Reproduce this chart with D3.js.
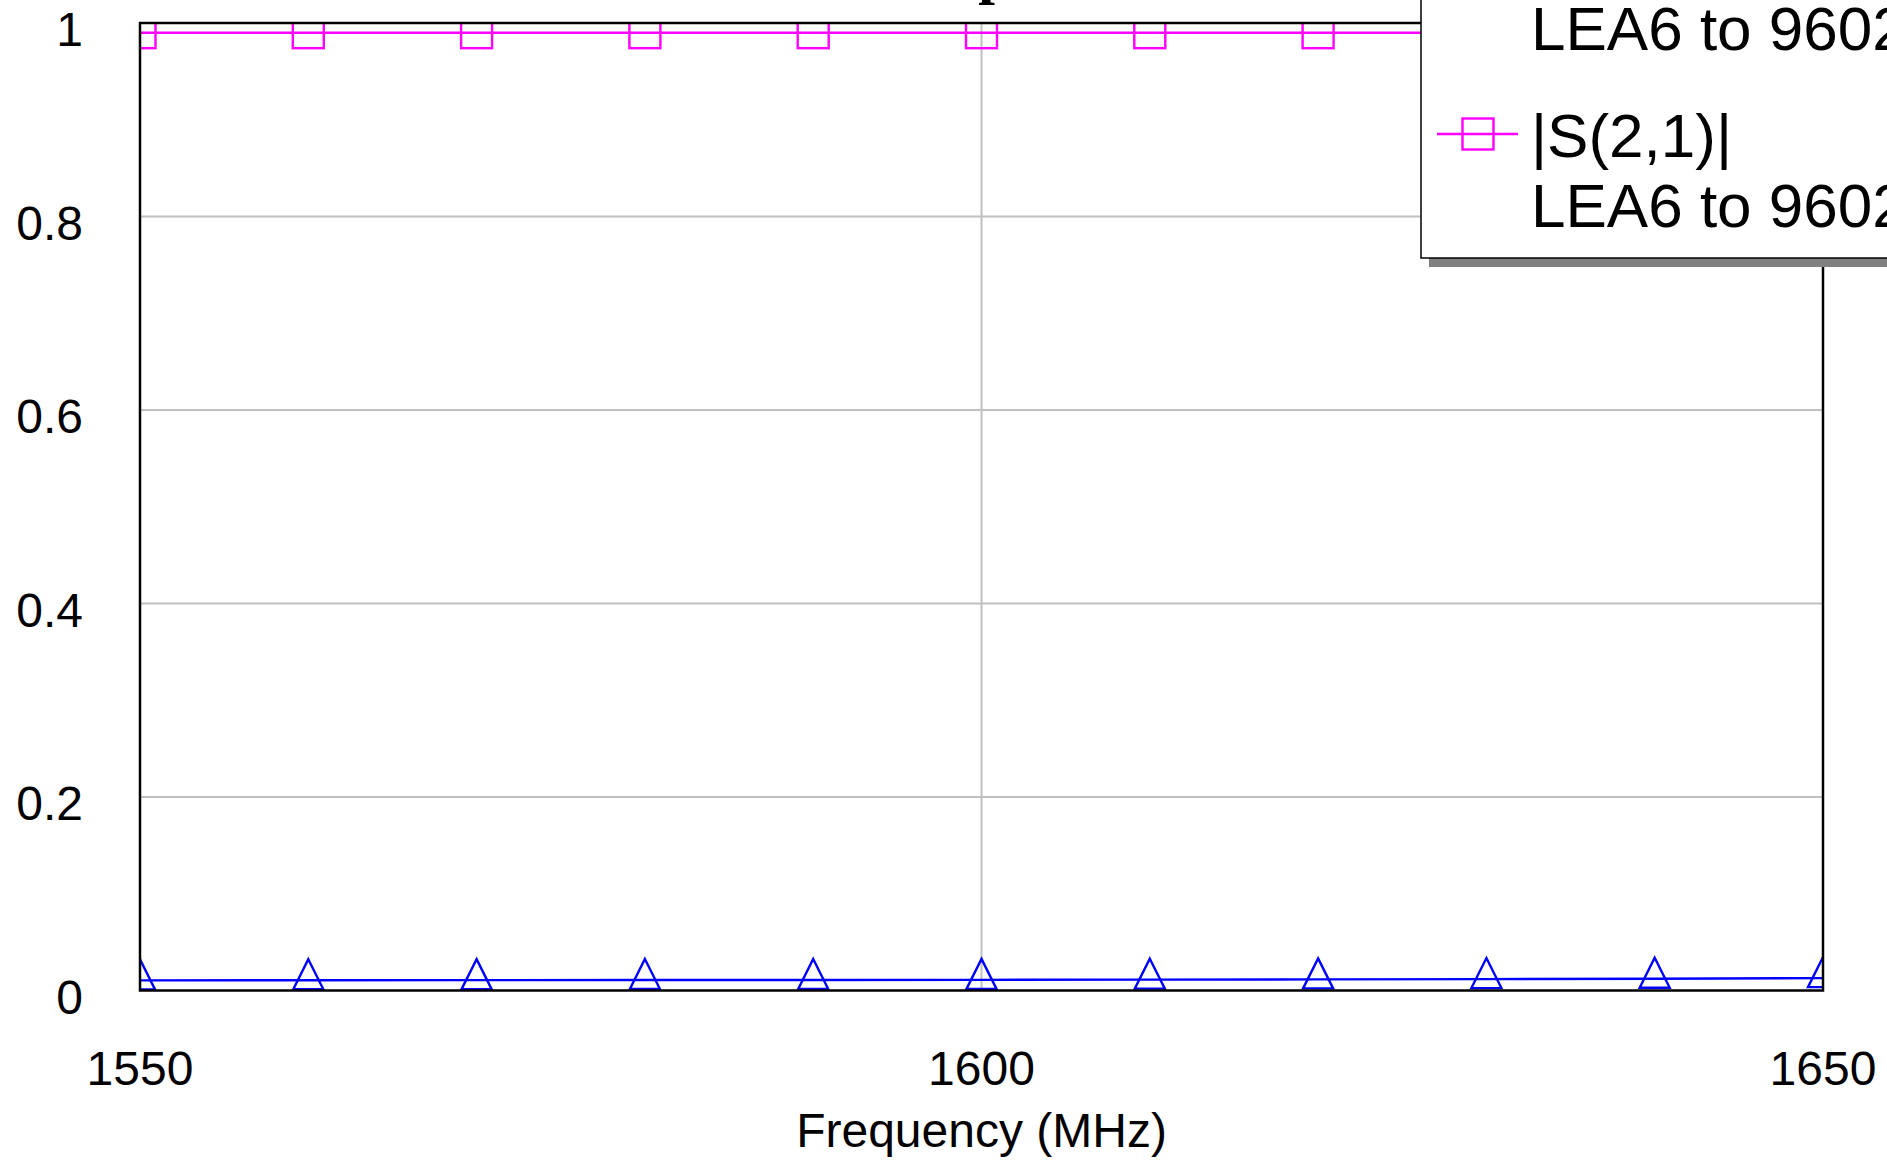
<!DOCTYPE html>
<html>
<head>
<meta charset="utf-8">
<script src="https://cdn.jsdelivr.net/npm/d3@7"></script>
<style>
  html, body { margin: 0; padding: 0; background: #fff; overflow: hidden; }
  svg { display: block; }
</style>
</head>
<body>
<svg id="chart" width="1887" height="1168"></svg>
<script>
// ---- data ----
const frequencies = [1550, 1560, 1570, 1580, 1590, 1600, 1610, 1620, 1630, 1640, 1650];
const s11Values = [0.0105, 0.0106, 0.0107, 0.0108, 0.0109, 0.0110, 0.0112, 0.0115, 0.0118, 0.0122, 0.0128];
const s21Values = [0.990, 0.990, 0.990, 0.990, 0.990, 0.990, 0.990, 0.990, 0.990, 0.990, 0.990];
const xTicks = [1550, 1600, 1650];
const yTicks = [0, 0.2, 0.4, 0.6, 0.8, 1];
const seriesNames = ["|S(1,1)|", "|S(2,1)|"];
const seriesSub = ["LEA6 to 9602", "LEA6 to 9602"];
const chartTitle = "S-parameters";
const xLabel = "Frequency (MHz)";

const W = 1887, H = 1168;
const plot = { left: 140, right: 1823, top: 23, bottom: 990.5 };

const svg = d3.select("#chart");
const x = d3.scaleLinear().domain([1550, 1650]).range([plot.left, plot.right]);
const y = d3.scaleLinear().domain([0, 1]).range([plot.bottom, plot.top]);

const sansFont = "'Liberation Sans', Arial, Helvetica, sans-serif";

// title (almost entirely above the visible area; only the descender of "p" shows)
svg.append("text")
  .attr("x", 925)
  .attr("y", -8)
  .attr("text-anchor", "start")
  .attr("font-family", "'Liberation Serif', 'Times New Roman', serif")
  .attr("font-weight", "bold")
  .attr("font-size", 60)
  .text(chartTitle);

// grid
const grid = svg.append("g");
grid.selectAll("line.gy").data(yTicks.filter(d => d > 0 && d < 1)).join("line")
  .attr("x1", plot.left).attr("x2", plot.right)
  .attr("y1", d => y(d)).attr("y2", d => y(d))
  .attr("stroke", "#c0c0c0").attr("stroke-width", 2);
grid.selectAll("line.gx").data(xTicks.filter(d => d > 1550 && d < 1650)).join("line")
  .attr("x1", d => x(d)).attr("x2", d => x(d))
  .attr("y1", plot.top).attr("y2", plot.bottom)
  .attr("stroke", "#c0c0c0").attr("stroke-width", 2);

// clip
svg.append("clipPath").attr("id", "plotclip")
  .append("rect")
  .attr("x", plot.left).attr("y", plot.top)
  .attr("width", plot.right - plot.left).attr("height", plot.bottom - plot.top);

const dataG = svg.append("g").attr("clip-path", "url(#plotclip)");

const s11 = frequencies.map((f, i) => ({ f, v: s11Values[i] }));
const s21 = frequencies.map((f, i) => ({ f, v: s21Values[i] }));
const line = d3.line().x(d => x(d.f)).y(d => y(d.v));

function triPath(cx, cy) {
  return `M${cx},${cy - 21}L${cx + 15},${cy + 9}L${cx - 15},${cy + 9}Z`;
}

dataG.append("path").datum(s11).attr("d", line)
  .attr("fill", "none").attr("stroke", "#0000ff").attr("stroke-width", 2.4);
dataG.selectAll("path.tri").data(s11).join("path")
  .attr("class", "tri")
  .attr("d", d => triPath(x(d.f), y(d.v)))
  .attr("fill", "none").attr("stroke", "#0000ff").attr("stroke-width", 2.4);

dataG.append("path").datum(s21).attr("d", line)
  .attr("fill", "none").attr("stroke", "#ff00ff").attr("stroke-width", 2.4);
dataG.selectAll("rect.sq").data(s21).join("rect")
  .attr("class", "sq")
  .attr("x", d => x(d.f) - 15.5).attr("y", d => y(d.v) - 15.5)
  .attr("width", 31).attr("height", 31)
  .attr("fill", "none").attr("stroke", "#ff00ff").attr("stroke-width", 2.4);

// frame
svg.append("rect")
  .attr("x", plot.left).attr("y", plot.top)
  .attr("width", plot.right - plot.left).attr("height", plot.bottom - plot.top)
  .attr("fill", "none").attr("stroke", "#000").attr("stroke-width", 2.5);

// y tick labels
svg.append("g").selectAll("text").data(yTicks).join("text")
  .attr("x", 83).attr("y", d => y(d) + 23)
  .attr("text-anchor", "end")
  .attr("font-family", sansFont).attr("font-size", 48)
  .text(d => d3.format("~g")(d));

// x tick labels
svg.append("g").selectAll("text").data(xTicks).join("text")
  .attr("x", d => x(d)).attr("y", 1085)
  .attr("text-anchor", "middle")
  .attr("font-family", sansFont).attr("font-size", 48)
  .text(d => d);

// x axis label
svg.append("text")
  .attr("x", (plot.left + plot.right) / 2).attr("y", 1147)
  .attr("text-anchor", "middle")
  .attr("font-family", sansFont).attr("font-size", 48)
  .text(xLabel);

// legend
const leg = { left: 1421, bottom: 258, top: -200, right: 2100 };
const legG = svg.append("g");
legG.append("rect")
  .attr("x", leg.left + 8).attr("y", leg.top + 9)
  .attr("width", leg.right - leg.left).attr("height", leg.bottom - leg.top)
  .attr("fill", "#808080");
legG.append("rect")
  .attr("x", leg.left).attr("y", leg.top)
  .attr("width", leg.right - leg.left).attr("height", leg.bottom - leg.top)
  .attr("fill", "#fff").attr("stroke", "#000").attr("stroke-width", 1.5);

const legendItems = [
  { name: seriesNames[0], sub: seriesSub[0], color: "#0000ff", marker: "tri", lineY: -43 },
  { name: seriesNames[1], sub: seriesSub[1], color: "#ff00ff", marker: "sq", lineY: 134 }
];
legendItems.forEach(it => {
  const g = legG.append("g");
  g.append("line").attr("x1", 1437).attr("x2", 1518)
    .attr("y1", it.lineY).attr("y2", it.lineY)
    .attr("stroke", it.color).attr("stroke-width", 2.4);
  if (it.marker === "sq") {
    g.append("rect").attr("x", 1478 - 15.5).attr("y", it.lineY - 15.5)
      .attr("width", 31).attr("height", 31)
      .attr("fill", "none").attr("stroke", it.color).attr("stroke-width", 2.4);
  } else {
    g.append("path").attr("d", triPath(1478, it.lineY))
      .attr("fill", "none").attr("stroke", it.color).attr("stroke-width", 2.4);
  }
  g.append("text").attr("x", 1531).attr("y", it.lineY + 23)
    .attr("font-family", sansFont).attr("font-size", 62).text(it.name);
  g.append("text").attr("x", 1531).attr("y", it.lineY + 93)
    .attr("font-family", sansFont).attr("font-size", 62).text(it.sub);
});
</script>
</body>
</html>
